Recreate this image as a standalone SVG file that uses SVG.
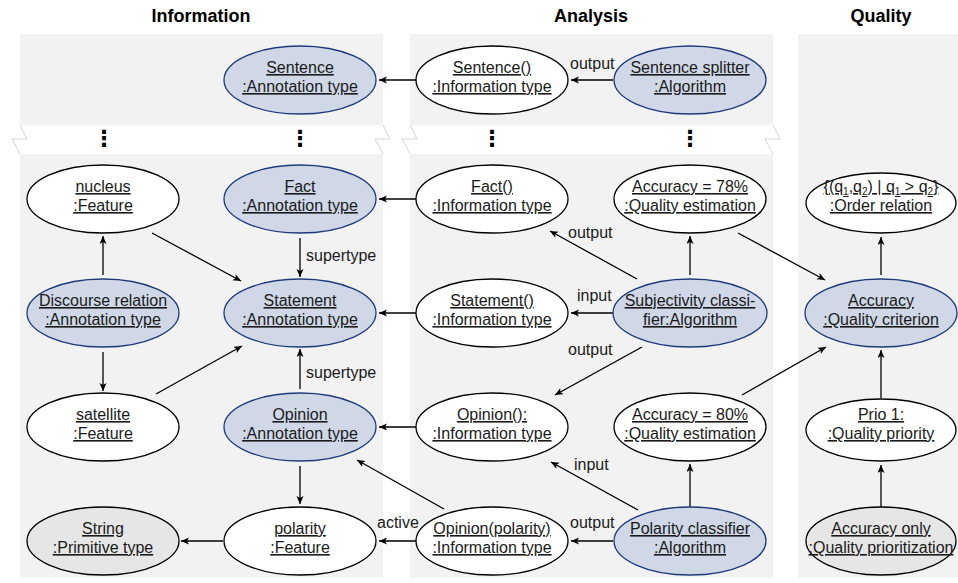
<svg xmlns="http://www.w3.org/2000/svg" width="958" height="583" viewBox="0 0 958 583">
  <style>
    .title { font-family: "Liberation Sans", Arial, Helvetica, sans-serif; font-size: 18px; font-weight: bold; fill: #000; text-anchor: middle; }
    .lbl { font-family: "Liberation Sans", Arial, Helvetica, sans-serif; font-size: 16px; fill: #1a1a1a; text-anchor: middle; text-decoration: underline; }
    .edge-lbl { font-family: "Liberation Sans", Arial, Helvetica, sans-serif; font-size: 16px; fill: #1a1a1a; }
    .dots { font-family: "DejaVu Sans", sans-serif; font-size: 22px; font-weight: bold; fill: #000; text-anchor: middle; }
    .panel { fill: #f2f2f2; stroke: none; }
    .brk { fill: none; stroke: #d4d4d4; stroke-width: 1; }
    .plain { fill: #ffffff; stroke: #000; stroke-width: 1.3; }
    .blue { fill: #d0d8e7; stroke: #1c3a7a; stroke-width: 1.3; }
    .prim { fill: #e6e6e6; stroke: #000; stroke-width: 1.3; }
    .conn line { stroke: #000; stroke-width: 1.3; marker-end: url(#arrow); }
  </style>
  <defs>
    <marker id="arrow" markerUnits="userSpaceOnUse" markerWidth="10" markerHeight="8" refX="8" refY="3.5" orient="auto">
      <path d="M0,0 L8,3.5 L0,7 L2,3.5 z" fill="#000"/>
    </marker>
  </defs>

  <!-- column titles -->
  <text class="title" x="201" y="22">Information</text>
  <text class="title" x="591" y="22">Analysis</text>
  <text class="title" x="881" y="22">Quality</text>

  <!-- swimlane panels, the first two interrupted by a break band -->
  <g id="panels">
    <rect class="panel" x="20" y="34" width="363" height="91"/>
    <rect class="panel" x="20" y="154" width="363" height="424"/>
    <rect class="panel" x="410" y="34" width="363" height="91"/>
    <rect class="panel" x="410" y="154" width="363" height="424"/>
    <rect class="panel" x="798" y="34" width="160" height="544"/>
    <polyline class="brk" points="20,125 27,139 12,139 20,154"/>
    <polyline class="brk" points="383,125 390,139 375,139 383,154"/>
    <polyline class="brk" points="410,125 417,139 402,139 410,154"/>
    <polyline class="brk" points="773,125 780,139 765,139 773,154"/>
    <text class="dots" x="104" y="146">⋮</text>
    <text class="dots" x="300" y="146">⋮</text>
    <text class="dots" x="492" y="146">⋮</text>
    <text class="dots" x="690" y="146">⋮</text>
  </g>

  <!-- connectors -->
  <g id="connectors" class="conn">
    <line x1="416" y1="80" x2="379" y2="80"/>
    <line x1="613" y1="80" x2="571" y2="80"/>
    <line x1="416" y1="199" x2="379" y2="199"/>
    <line x1="300" y1="238" x2="300" y2="277"/>
    <line x1="152" y1="233" x2="241" y2="281"/>
    <line x1="103" y1="275" x2="103" y2="236"/>
    <line x1="103" y1="352" x2="103" y2="391"/>
    <line x1="156" y1="394" x2="242" y2="346"/>
    <line x1="300" y1="389" x2="300" y2="349"/>
    <line x1="416" y1="313" x2="379" y2="313"/>
    <line x1="613" y1="313" x2="571" y2="313"/>
    <line x1="637" y1="279" x2="550" y2="231"/>
    <line x1="690" y1="275" x2="690" y2="236"/>
    <line x1="642" y1="347" x2="555" y2="395"/>
    <line x1="738" y1="233" x2="825" y2="280"/>
    <line x1="742" y1="395" x2="826" y2="347"/>
    <line x1="881" y1="275" x2="881" y2="237"/>
    <line x1="881" y1="398" x2="881" y2="350"/>
    <line x1="881" y1="507" x2="881" y2="465"/>
    <line x1="416" y1="427" x2="379" y2="427"/>
    <line x1="300" y1="466" x2="300" y2="504"/>
    <line x1="613" y1="541" x2="571" y2="541"/>
    <line x1="690" y1="507" x2="690" y2="464"/>
    <line x1="638" y1="510" x2="551" y2="462"/>
    <line x1="444" y1="509" x2="357" y2="460"/>
    <line x1="416" y1="541" x2="379" y2="541"/>
    <line x1="223" y1="541" x2="181" y2="541"/>
    <text class="edge-lbl" x="570" y="69">output</text>
    <text class="edge-lbl" x="306" y="261">supertype</text>
    <text class="edge-lbl" x="306" y="378">supertype</text>
    <text class="edge-lbl" x="568" y="238">output</text>
    <text class="edge-lbl" x="577" y="301">input</text>
    <text class="edge-lbl" x="568" y="355">output</text>
    <text class="edge-lbl" x="574" y="470">input</text>
    <text class="edge-lbl" x="570" y="528">output</text>
    <text class="edge-lbl" x="377" y="528">active</text>
  </g>

  <!-- Information lane -->
  <g id="sentence-type">
    <ellipse class="blue" cx="300" cy="80" rx="76" ry="34"/>
    <text class="lbl" x="300" y="73">Sentence</text>
    <text class="lbl" x="300" y="92">:Annotation type</text>
  </g>
  <g id="nucleus">
    <ellipse class="plain" cx="103" cy="199" rx="76" ry="34"/>
    <text class="lbl" x="103" y="192">nucleus</text>
    <text class="lbl" x="103" y="211">:Feature</text>
  </g>
  <g id="fact-type">
    <ellipse class="blue" cx="300" cy="199" rx="76" ry="34"/>
    <text class="lbl" x="300" y="192">Fact</text>
    <text class="lbl" x="300" y="211">:Annotation type</text>
  </g>
  <g id="discourse-relation">
    <ellipse class="blue" cx="103" cy="313" rx="76" ry="34"/>
    <text class="lbl" x="103" y="306">Discourse relation</text>
    <text class="lbl" x="103" y="325">:Annotation type</text>
  </g>
  <g id="statement-type">
    <ellipse class="blue" cx="300" cy="313" rx="76" ry="34"/>
    <text class="lbl" x="300" y="306">Statement</text>
    <text class="lbl" x="300" y="325">:Annotation type</text>
  </g>
  <g id="satellite">
    <ellipse class="plain" cx="103" cy="427" rx="76" ry="34"/>
    <text class="lbl" x="103" y="420">satellite</text>
    <text class="lbl" x="103" y="439">:Feature</text>
  </g>
  <g id="opinion-type">
    <ellipse class="blue" cx="300" cy="427" rx="76" ry="34"/>
    <text class="lbl" x="300" y="420">Opinion</text>
    <text class="lbl" x="300" y="439">:Annotation type</text>
  </g>
  <g id="string">
    <ellipse class="prim" cx="103" cy="541" rx="76" ry="34"/>
    <text class="lbl" x="103" y="534">String</text>
    <text class="lbl" x="103" y="553">:Primitive type</text>
  </g>
  <g id="polarity">
    <ellipse class="plain" cx="300" cy="541" rx="76" ry="34"/>
    <text class="lbl" x="300" y="534">polarity</text>
    <text class="lbl" x="300" y="553">:Feature</text>
  </g>

  <!-- Analysis lane -->
  <g id="sentence-info">
    <ellipse class="plain" cx="492" cy="80" rx="76" ry="34"/>
    <text class="lbl" x="492" y="73">Sentence()</text>
    <text class="lbl" x="492" y="92">:Information type</text>
  </g>
  <g id="sentence-splitter">
    <ellipse class="blue" cx="690" cy="80" rx="76" ry="34"/>
    <text class="lbl" x="690" y="73">Sentence splitter</text>
    <text class="lbl" x="690" y="92">:Algorithm</text>
  </g>
  <g id="fact-info">
    <ellipse class="plain" cx="492" cy="199" rx="76" ry="34"/>
    <text class="lbl" x="492" y="192">Fact()</text>
    <text class="lbl" x="492" y="211">:Information type</text>
  </g>
  <g id="accuracy-78">
    <ellipse class="plain" cx="690" cy="199" rx="76" ry="34"/>
    <text class="lbl" x="690" y="192">Accuracy = 78%</text>
    <text class="lbl" x="690" y="211">:Quality estimation</text>
  </g>
  <g id="statement-info">
    <ellipse class="plain" cx="492" cy="313" rx="76" ry="34"/>
    <text class="lbl" x="492" y="306">Statement()</text>
    <text class="lbl" x="492" y="325">:Information type</text>
  </g>
  <g id="subjectivity-classifier">
    <ellipse class="blue" cx="690" cy="313" rx="77" ry="34"/>
    <text class="lbl" x="690" y="306">Subjectivity classi-</text>
    <text class="lbl" x="690" y="325">fier:Algorithm</text>
  </g>
  <g id="opinion-info">
    <ellipse class="plain" cx="492" cy="427" rx="76" ry="34"/>
    <text class="lbl" x="492" y="420">Opinion():</text>
    <text class="lbl" x="492" y="439">:Information type</text>
  </g>
  <g id="accuracy-80">
    <ellipse class="plain" cx="690" cy="427" rx="76" ry="34"/>
    <text class="lbl" x="690" y="420">Accuracy = 80%</text>
    <text class="lbl" x="690" y="439">:Quality estimation</text>
  </g>
  <g id="opinion-polarity-info">
    <ellipse class="plain" cx="492" cy="541" rx="76" ry="34"/>
    <text class="lbl" x="492" y="534">Opinion(polarity)</text>
    <text class="lbl" x="492" y="553">:Information type</text>
  </g>
  <g id="polarity-classifier">
    <ellipse class="blue" cx="690" cy="541" rx="76" ry="34"/>
    <text class="lbl" x="690" y="534">Polarity classifier</text>
    <text class="lbl" x="690" y="553">:Algorithm</text>
  </g>

  <!-- Quality lane -->
  <g id="order-relation">
    <ellipse class="plain" cx="881" cy="203" rx="75" ry="30"/>
    <text class="lbl" x="881" y="192">{(q<tspan font-size="10" dy="3">1</tspan><tspan dy="-3">,q</tspan><tspan font-size="10" dy="3">2</tspan><tspan dy="-3">) | q</tspan><tspan font-size="10" dy="3">1</tspan><tspan dy="-3"> &gt; q</tspan><tspan font-size="10" dy="3">2</tspan><tspan dy="-3">}</tspan></text>
    <text class="lbl" x="881" y="211">:Order relation</text>
  </g>
  <g id="accuracy-criterion">
    <ellipse class="blue" cx="881" cy="313" rx="76" ry="34"/>
    <text class="lbl" x="881" y="306">Accuracy</text>
    <text class="lbl" x="881" y="325">:Quality criterion</text>
  </g>
  <g id="prio-1">
    <ellipse class="plain" cx="881" cy="430" rx="75" ry="31"/>
    <text class="lbl" x="881" y="420">Prio 1:</text>
    <text class="lbl" x="881" y="439">:Quality priority</text>
  </g>
  <g id="accuracy-only">
    <ellipse class="prim" cx="881" cy="541" rx="75" ry="34"/>
    <text class="lbl" x="881" y="534">Accuracy only</text>
    <text class="lbl" x="881" y="553">:Quality prioritization</text>
  </g>
</svg>
